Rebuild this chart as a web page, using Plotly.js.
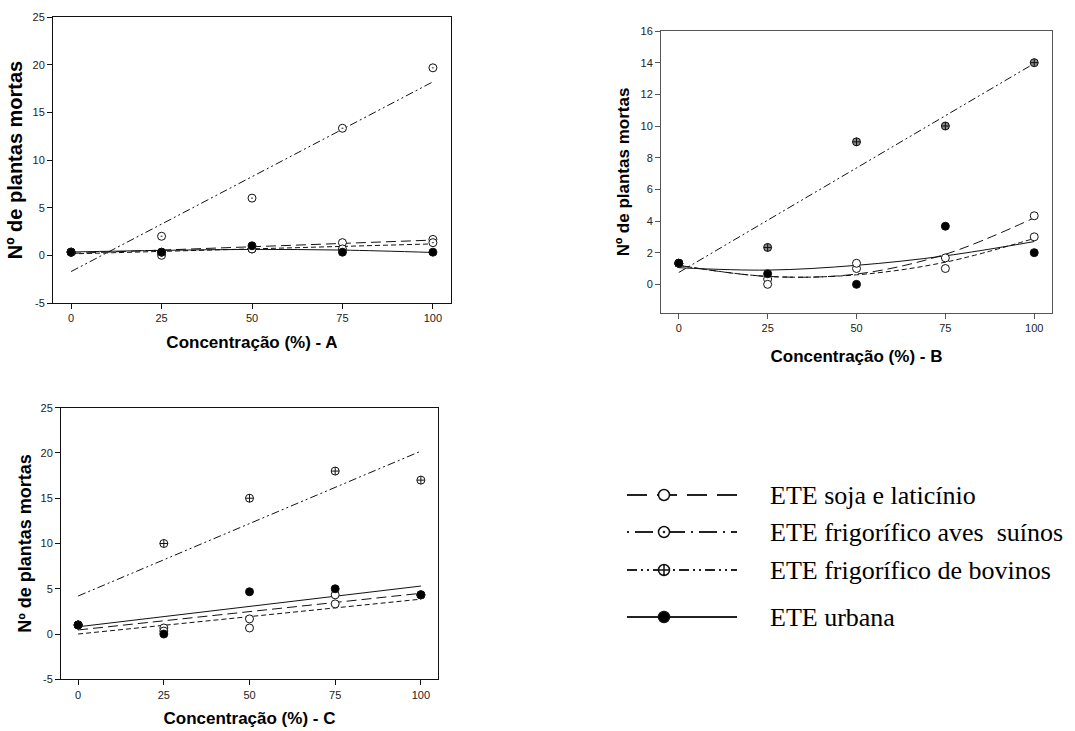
<!DOCTYPE html>
<html><head><meta charset="utf-8">
<script src="https://cdn.plot.ly/plotly-3.0.1.min.js"></script>
<style>html,body{margin:0;padding:0;background:#fff}#chart{width:1075px;height:731px}</style>
</head><body><div id="chart"></div>
<script>
// ---- data ----
const concentracao = [0, 25, 50, 75, 100];
const fitEnds = [0, 100];

// y tick labels
const yTicksAC = [-5, 0, 5, 10, 15, 20, 25];
const yTickTextAC = ["-5", "0", "5", "10", "15", "20", "25"];
const yTicksB = [0, 2, 4, 6, 8, 10, 12, 14, 16];
const yTickTextB = ["0", "2", "4", "6", "8", "10", "12", "14", "16"];

// Panel A
const A_soja     = [0.33, 0, 0.67, 1.33, 1.67];
const A_aves     = [0.33, 0.33, 0.67, 0.67, 1.33];
const A_bovinos  = [0.33, 2.0, 6.0, 13.33, 19.67];
const A_urbana   = [0.33, 0.33, 1.0, 0.33, 0.33];
const A_fit_soja    = [0.2, 1.6];
const A_fit_aves    = [0.15, 1.2];
const A_fit_bovinos = [-1.7, 18.2];
const A_fit_urbana  = [0.35, 0.52, 0.62, 0.55, 0.3];

// Panel B
const B_soja     = [1.33, 0.33, 1.0, 1.67, 4.33];
const B_aves     = [1.33, 0, 1.33, 1.0, 3.0];
const B_bovinos  = [1.33, 2.33, 9.0, 10.0, 14.0];
const B_urbana   = [1.33, 0.67, 0, 3.67, 2.0];
const B_fit_soja    = [1.2, 0.5, 0.65, 1.9, 4.2];
const B_fit_aves    = [1.2, 0.5, 0.6, 1.4, 2.9];
const B_fit_bovinos = [0.75, 13.95];
const B_fit_urbana  = [1.05, 0.9, 1.2, 1.8, 2.7];

// Panel C
const C_soja     = [1, 0.67, 1.67, 4.33, 4.33];
const C_aves     = [1, 0.33, 0.67, 3.33, 4.33];
const C_bovinos  = [1, 10, 15, 18, 17];
const C_urbana   = [1, 0, 4.67, 5, 4.33];
const C_fit_soja    = [0.45, 4.5];
const C_fit_aves    = [0.0, 3.85];
const C_fit_bovinos = [4.2, 20.2];
const C_fit_urbana  = [0.8, 5.3];

const seriesNames = ["ETE soja e laticínio", "ETE frigorífico aves\u00a0 suínos", "ETE frigorífico de bovinos", "ETE urbana"];
const xTitles = ["Concentração (%) - A", "Concentração (%) - B", "Concentração (%) - C"];
const yTitle = "Nº de plantas mortas";

// ---- styles ----
const dashes = {soja: "10px,5px", aves: "5px,3px", bovinos: "8px,3px,2px,3px,2px,3px", urbana: "solid"};
const legendDashes = {soja: "20px,10px", aves: "2px,6px,18px,6px", bovinos: "10px,4px,2px,4px,2px,4px", urbana: "solid"};

function fitTrace(xs, ys, dash, ax, spline) {
  return {x: xs, y: ys, mode: "lines", xaxis: "x" + ax, yaxis: "y" + ax, showlegend: false, hoverinfo: "skip",
    line: {color: "#111", width: 1, dash: dash, shape: spline ? "spline" : "linear"}};
}
function ptTrace(ys, symbol, fill, ax, size) {
  return {x: concentracao, y: ys, mode: "markers", xaxis: "x" + ax, yaxis: "y" + ax, showlegend: false,
    marker: {symbol: symbol, size: size || 8, color: fill, line: {color: "#111", width: 1}}};
}

const traces = [];
// A
traces.push(fitTrace(fitEnds, A_fit_bovinos, dashes.bovinos, ""));
traces.push(fitTrace(fitEnds, A_fit_soja, dashes.soja, ""));
traces.push(fitTrace(fitEnds, A_fit_aves, dashes.aves, ""));
traces.push(fitTrace(concentracao, A_fit_urbana, dashes.urbana, "", true));
traces.push(ptTrace(A_bovinos, "circle-dot", "#fff", ""));
traces.push(ptTrace(A_soja, "circle", "#fff", ""));
traces.push(ptTrace(A_aves, "circle-dot", "#fff", ""));
traces.push(ptTrace(A_urbana, "circle", "#000", ""));
// B
traces.push(fitTrace(fitEnds, B_fit_bovinos, dashes.bovinos, "2"));
traces.push(fitTrace(concentracao, B_fit_soja, dashes.soja, "2", true));
traces.push(fitTrace(concentracao, B_fit_aves, dashes.aves, "2", true));
traces.push(fitTrace(concentracao, B_fit_urbana, dashes.urbana, "2", true));
traces.push(ptTrace(B_bovinos, "circle-cross", "#888", "2"));
traces.push(ptTrace(B_soja, "circle", "#fff", "2"));
traces.push(ptTrace(B_aves, "circle", "#fff", "2"));
traces.push(ptTrace(B_urbana, "circle", "#000", "2"));
// C
traces.push(fitTrace(fitEnds, C_fit_bovinos, dashes.bovinos, "3"));
traces.push(fitTrace(fitEnds, C_fit_soja, dashes.soja, "3"));
traces.push(fitTrace(fitEnds, C_fit_aves, dashes.aves, "3"));
traces.push(fitTrace(fitEnds, C_fit_urbana, dashes.urbana, "3"));
traces.push(ptTrace(C_bovinos, "circle-cross", "#fff", "3"));
traces.push(ptTrace(C_soja, "circle", "#fff", "3"));
traces.push(ptTrace(C_aves, "circle", "#fff", "3"));
traces.push(ptTrace(C_urbana, "circle", "#000", "3"));

// ---- legend keys (drawn on a pixel-scaled overlay axis) ----
const W = 1075, H = 731;
const legendKeyX = [627, 737], legendMarkerX = 664, legendTextX = 768;
const legendRowsY = [495, 532, 570, 617];
const keyStyles = [
  {dash: legendDashes.soja, symbol: "circle", fill: "#fff"},
  {dash: legendDashes.aves, symbol: "circle-dot", fill: "#fff"},
  {dash: legendDashes.bovinos, symbol: "circle-cross", fill: "#fff"},
  {dash: legendDashes.urbana, symbol: "circle", fill: "#000"}
];
const annotations = [];
keyStyles.forEach((s, i) => {
  const yy = legendRowsY[i];
  traces.push({x: legendKeyX, y: [yy, yy], mode: "lines", xaxis: "x4", yaxis: "y4", showlegend: false, hoverinfo: "skip",
    line: {color: "#222", width: 2, dash: s.dash}});
  traces.push({x: [legendMarkerX], y: [yy], mode: "markers", xaxis: "x4", yaxis: "y4", showlegend: false, hoverinfo: "skip",
    marker: {symbol: s.symbol, size: 11, color: s.fill, line: {color: "#111", width: 1.5}}});
  annotations.push({text: seriesNames[i], xref: "x4", yref: "y4", x: legendTextX, y: yy, xanchor: "left", yanchor: "middle",
    showarrow: false, font: {family: "Liberation Serif, Times New Roman, serif", size: 26, color: "#000"}});
});

// ---- layout ----
const tickFont = {family: "Liberation Sans, Arial, sans-serif", size: 11, color: "#222"};
const titleFontX = {family: "Liberation Sans, Arial, sans-serif", size: 17, color: "#000", weight: "bold"};
function xAxis(domain, anchor, title, col, standoff) {
  return {domain: domain, anchor: anchor, range: [-5, 105], tickvals: concentracao, ticks: "outside", ticklen: 5,
    tickcolor: col, showline: true, linecolor: col, linewidth: 1, mirror: true, showgrid: false, zeroline: false,
    tickfont: tickFont, title: {text: "<b>" + title + "</b>", font: titleFontX, standoff: standoff}, fixedrange: true};
}
function yAxis(domain, anchor, range, tv, tt, col, tsize, standoff) {
  return {domain: domain, anchor: anchor, range: range, tickvals: tv, ticktext: tt, ticks: "outside", ticklen: 5,
    tickcolor: col, showline: true, linecolor: col, linewidth: 1, mirror: true, showgrid: false, zeroline: false,
    tickfont: tickFont, title: {text: "<b>" + yTitle + "</b>", font: Object.assign({}, titleFontX, {size: tsize}), standoff: standoff}, fixedrange: true};
}
const px = v => v / W, py = v => 1 - v / H;

const layout = {
  width: W, height: H, margin: {l: 0, r: 0, t: 0, b: 0}, paper_bgcolor: "#fff", plot_bgcolor: "rgba(0,0,0,0)",
  showlegend: false,
  xaxis:  xAxis([px(53), px(451)], "y", xTitles[0], "#111", 12),
  yaxis:  yAxis([py(303), py(17)], "x", [-5, 25], yTicksAC, yTickTextAC, "#111", 20, 4),
  xaxis2: xAxis([px(661), px(1052)], "y2", xTitles[1], "#555", 16),
  yaxis2: yAxis([py(313), py(31)], "x2", [-1.81, 16], yTicksB, yTickTextB, "#555", 17, 6),
  xaxis3: xAxis([px(61), px(438)], "y3", xTitles[2], "#111", 12),
  yaxis3: yAxis([py(679.3), py(407.7)], "x3", [-5, 25], yTicksAC, yTickTextAC, "#111", 18, 4),
  xaxis4: {domain: [0, 1], anchor: "y4", range: [0, W], visible: false, fixedrange: true},
  yaxis4: {domain: [0, 1], anchor: "x4", range: [H, 0], visible: false, fixedrange: true},
  annotations: annotations
};

Plotly.newPlot("chart", traces, layout, {staticPlot: true, displayModeBar: false});
</script></body></html>
